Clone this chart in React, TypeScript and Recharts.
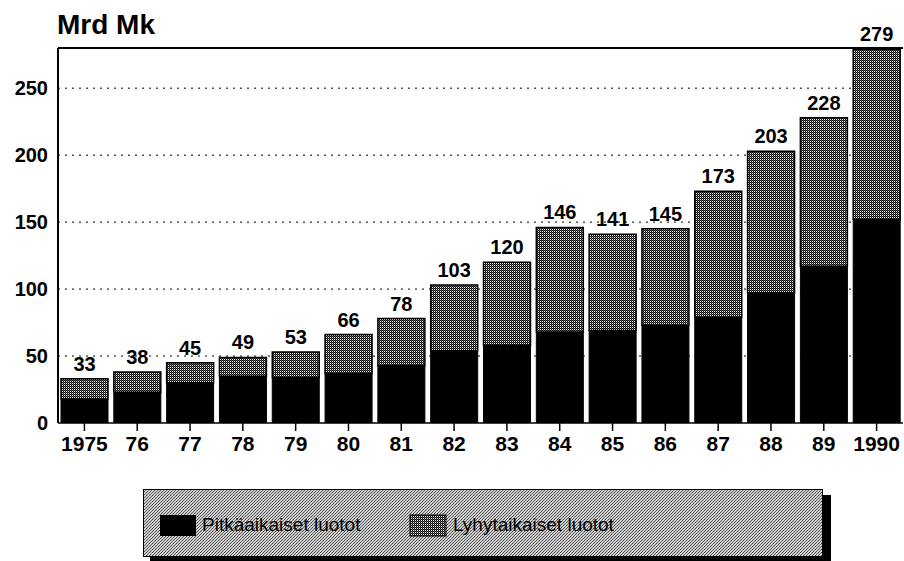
import React from "react";
import { BarChart, Bar, XAxis, YAxis, CartesianGrid, ReferenceLine, LabelList } from "recharts";

const years = ["1975", "76", "77", "78", "79", "80", "81", "82", "83", "84", "85", "86", "87", "88", "89", "1990"];
const totals = [33, 38, 45, 49, 53, 66, 78, 103, 120, 146, 141, 145, 173, 203, 228, 279];
const longTerm = [18, 23, 30, 35, 34, 37, 43, 54, 58, 68, 69, 73, 79, 97, 117, 152];
const yTicks = [0, 50, 100, 150, 200, 250];
const unitLabel = "Mrd Mk";
const seriesNames = ["Pitkäaikaiset luotot", "Lyhytaikaiset luotot"];

const data = years.map((y, i) => ({
  year: y,
  long: longTerm[i],
  short: totals[i] - longTerm[i],
  total: totals[i],
}));

const FONT = "'Liberation Sans', Arial, sans-serif";

const LegendBox = () => (
  <div style={{ position: "absolute", left: 143, top: 489, width: 690, height: 72, fontFamily: FONT }}>
    <svg width={690} height={72} style={{ position: "absolute", left: 0, top: 0 }}>
      <rect x={7} y={6} width={681} height={66} fill="#000" />
      <rect x={0.5} y={0.5} width={679} height={67} fill="url(#legendPat)" stroke="#000" strokeWidth={1} />
      <rect x={17} y={26} width={36} height={21} fill="#000" />
      <rect x={267} y={26} width={36} height={21} fill="url(#barPat)" stroke="#000" strokeWidth={1} />
    </svg>
    <span style={{ position: "absolute", left: 59, top: 25, fontSize: 19, color: "#000" }}>{seriesNames[0]}</span>
    <span style={{ position: "absolute", left: 310, top: 25, fontSize: 19, color: "#000" }}>{seriesNames[1]}</span>
  </div>
);

export default function App() {
  return (
    <div style={{ position: "absolute", left: 0, top: 0, width: 904, height: 561, background: "#fff", fontFamily: FONT }}>
      <svg width={0} height={0} style={{ position: "absolute" }}>
        <defs>
          <pattern id="barPat" width={2} height={2} patternUnits="userSpaceOnUse">
            <rect width={2} height={2} fill="#fff" />
            <rect x={0} y={0} width={1} height={1} fill="#000" />
            <rect x={1} y={1} width={1} height={1} fill="#000" />
            <rect x={1} y={0} width={1} height={1} fill="#555" />
          </pattern>
          <pattern id="legendPat" width={3} height={3} patternUnits="userSpaceOnUse">
            <rect width={3} height={3} fill="#cfcfcf" />
            <rect x={0} y={0} width={1} height={1} fill="#444" />
            <rect x={2} y={1} width={1} height={1} fill="#666" />
            <rect x={1} y={2} width={1} height={1} fill="#555" />
          </pattern>
        </defs>
      </svg>
      <div style={{ position: "absolute", left: 57, top: 9, fontSize: 28, fontWeight: 700, color: "#000" }}>{unitLabel}</div>
      <BarChart
        width={904}
        height={561}
        data={data}
        margin={{ top: 48, right: 1, bottom: 108, left: 0 }}
        barCategoryGap={3}
      >
        <CartesianGrid vertical={false} stroke="#000" strokeDasharray="2 5" horizontalValues={[50, 100, 150, 200, 250]} />
        <XAxis
          dataKey="year"
          axisLine={{ stroke: "#000", strokeWidth: 1.5 }}
          tickLine={{ stroke: "#000", strokeWidth: 1.5 }}
          tickSize={8}
          tickMargin={5}
          tick={{ fill: "#000", fontSize: 21, fontWeight: 700, fontFamily: FONT }}
          interval={0}
          height={30}
        />
        <YAxis
          domain={[0, 280]}
          ticks={yTicks}
          width={58}
          axisLine={{ stroke: "#000", strokeWidth: 2 }}
          tickLine={false}
          tickMargin={4}
          tick={{ fill: "#000", fontSize: 20, fontWeight: 700, fontFamily: FONT }}
          allowDataOverflow
        />
        <ReferenceLine y={280} stroke="#000" strokeWidth={2} />
        <Bar dataKey="long" stackId="a" fill="#000" stroke="#000" strokeWidth={1} isAnimationActive={false} name={seriesNames[0]} />
        <Bar dataKey="short" stackId="a" fill="url(#barPat)" stroke="#000" strokeWidth={1.5} isAnimationActive={false} name={seriesNames[1]}>
          <LabelList dataKey="total" position="top" offset={8} fill="#000" fontSize={20} fontWeight={700} fontFamily={FONT} />
        </Bar>
      </BarChart>
      <LegendBox />
    </div>
  );
}
